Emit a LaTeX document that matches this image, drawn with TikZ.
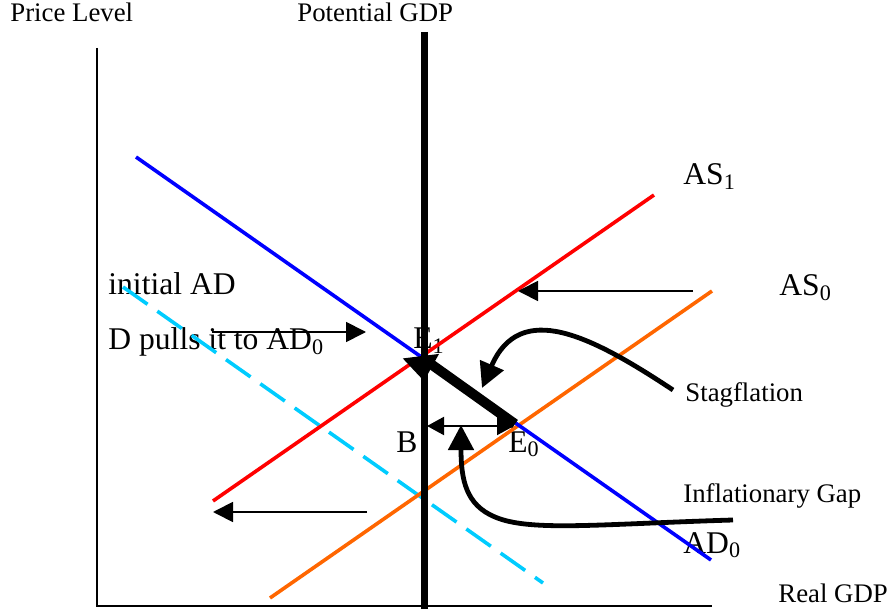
\documentclass[tikz,border=0pt]{standalone}
\usepackage{fontspec}
\setmainfont{Liberation Serif}
\usepackage{tikz}
\usetikzlibrary{arrows.meta}
\usetikzlibrary{positioning}
\usepackage{xcolor}
\definecolor{adblue}{RGB}{0,0,255}
\definecolor{asred}{RGB}{255,0,0}
\definecolor{asorange}{RGB}{255,102,0}
\definecolor{adcyan}{RGB}{0,204,255}
\tikzset{%
  axisline/.style={line width=0.8pt},
  curveline/.style={line width=1.8pt},
  potline/.style={line width=3.5pt},
  movearrow/.style={line width=0.9pt,-{Triangle[length=10pt,width=10pt]}},
  curvearrow/.style={line width=2.4pt,-{Triangle[length=12.5pt,width=12.5pt]}},
  smalltext/.style={font=\fontsize{13.4}{16}\selectfont,inner sep=0pt,anchor=base west},
  bigtext/.style={font=\fontsize{15.8}{19}\selectfont,inner sep=0pt,anchor=base west}
}

\begin{document}
\begin{tikzpicture}[x=0.5pt,y=-0.5pt]
  \useasboundingbox (0,0) rectangle (889,609);

  % labels
  \node[smalltext] (price) at (10,22) {Price Level};
  \node[smalltext] (potential) at (297,22) {Potential GDP};
  \node[smalltext] (real) at (778,602) {Real GDP};
  \node[smalltext] (stag) at (685,401) {Stagflation};
  \node[smalltext] (gap) at (683,502) {Inflationary Gap};
  \node[bigtext] (initial) at (108,295) {initial AD};
  \node[bigtext] (pulls) at (108,350) {D pulls it to AD\textsubscript{0}};
  \node[bigtext] (as1) at (683,185) {AS\textsubscript{1}};
  \node[bigtext] (as0) at (779,296) {AS\textsubscript{0}};
  \node[bigtext] (ad0) at (683,553) {AD\textsubscript{0}};
  \node[bigtext] (e1) at (413,349) {E\textsubscript{1}};
  \node[bigtext] (b) at (396,452) {B};
  \node[bigtext] (e0) at (508,452) {E\textsubscript{0}};

  % axes
  \coordinate (origin) at (97,606);
  \coordinate (ytop) at (97,48);
  \coordinate (xend) at (712,606);
  \draw[axisline] (ytop) -- (origin) -- (xend);

  % curves
  \coordinate (ad0a) at (136,157);
  \coordinate (ad0b) at (711,560);
  \coordinate (as1a) at (213,501);
  \coordinate (as1b) at (654,195);
  \coordinate (as0a) at (270,598);
  \coordinate (as0b) at (712,291);
  \coordinate (ad1a) at (123,287);
  \coordinate (ad1b) at (543,583);
  \draw[curveline,adcyan,dash pattern=on 15pt off 6pt] (ad1a) -- (ad1b);
  \draw[curveline,asorange] (as0a) -- (as0b);
  \draw[curveline,asred] (as1a) -- (as1b);
  \draw[curveline,adblue] (ad0a) -- (ad0b);

  \coordinate (pottop) at (424,32);
  \coordinate (potbot) at (424,609);
  \draw[potline] (pottop) -- (potbot);

  % shifts
  \coordinate (pullfrom) at (212,332);
  \coordinate (pullto) at (366,332);
  \draw[movearrow] (pullfrom) -- (pullto);
  \coordinate (asfrom) at (693,291);
  \coordinate (asto) at (518,291);
  \draw[movearrow] (asfrom) -- (asto);
  \coordinate (adfrom) at (367,512);
  \coordinate (adto) at (213,512);
  \draw[movearrow] (adfrom) -- (adto);

  % path from E0 to E1
  \coordinate (pe0) at (515,424);
  \coordinate (pe1) at (421,357);
  \coordinate (pdown) at (424,381);
  \coordinate (pb) at (427,426);
  \coordinate (pe0b) at (514,426);
  \draw[line width=5pt] (pe0) -- (pe1);
  \draw[line width=1pt,-{Triangle[length=12.5pt,width=18pt]}] (pe1) -- (pdown);
  \draw[line width=1pt,{Triangle[length=8.5pt,width=9pt]}-{Triangle[length=8.5pt,width=9pt]}] (pe0b) -- (pb);

  % pointers
  \coordinate (stagfrom) at (673,390);
  \coordinate (stagto) at (482,388);
  \draw[curvearrow] (stagfrom) .. controls (590,335) and (520,300) .. (stagto);
  \coordinate (gapfrom) at (733,520);
  \coordinate (gapmid) at (495,517);
  \coordinate (gapto) at (461,425);
  \draw[curvearrow] (gapfrom) .. controls (600,524) and (530,532) .. (gapmid)
    .. controls (466,505) and (461,480) .. (gapto);
\end{tikzpicture}
\end{document}
